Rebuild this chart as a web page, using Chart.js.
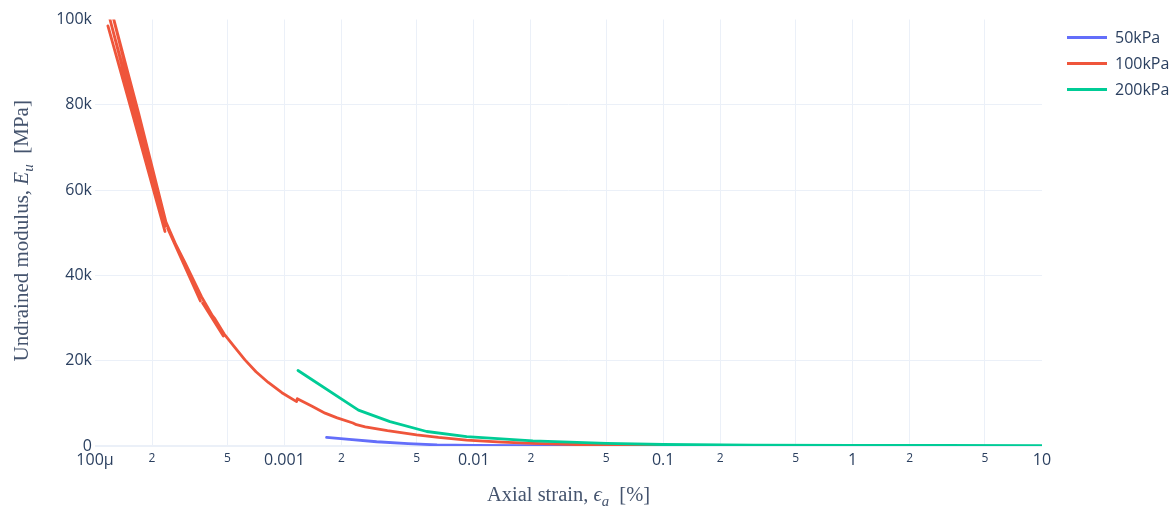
<!DOCTYPE html>
<html>
<head>
<meta charset="utf-8">
<script src="https://cdn.jsdelivr.net/npm/chart.js@4.4.1/dist/chart.umd.min.js"></script>
<style>
  html, body { margin: 0; padding: 0; background: #fff; }
  #wrap { width: 1175px; height: 514px; position: relative; }
</style>
</head>
<body>
<div id="wrap"><canvas id="chart"></canvas></div>
<script>
// Series data (axial strain in %, modulus in MPa)
const seriesNames = ["50kPa", "100kPa", "200kPa"];
const seriesColors = ["#636efa", "#EF553B", "#00cc96"];

const strain50 = [1.67e-3, 2.2e-3, 3.07e-3, 4.5e-3, 6.4e-3, 1e-2, 2e-2, 5e-2, 0.1];
const modulus50 = [2000, 1550, 1000, 550, 250, 120, 60, 30, 20];

const strain100 = [1.17e-4, 1.6e-4, 2.34e-4, 1.2e-4, 1.65e-4, 2.35e-4, 1.24e-4, 1.7e-4, 2.37e-4, 3.0e-4, 3.6e-4, 2.42e-4, 3.0e-4,
  3.65e-4, 4.3e-4, 4.76e-4, 3.7e-4, 4.3e-4, 4.8e-4, 5.5e-4, 6.19e-4, 7.08e-4, 8.22e-4,
  9.7e-4, 1.16e-3, 1.17e-3, 1.4e-3, 1.64e-3, 1.9e-3,
  2.3e-3, 2.4e-3, 2.67e-3, 3.5e-3, 4.99e-3, 6.5e-3, 9.17e-3, 1.4e-2, 2.05e-2, 3.5e-2, 6e-2, 0.1, 0.2];
const modulus100 = [98500, 76900, 50300, 100000, 77200, 51500, 101000, 78000, 52500, 42100, 34000, 51000, 42800,
  35000, 29500, 25800, 33500, 29800, 26300, 23000, 20200, 17400, 14900,
  12500, 10400, 11100, 9300, 7700, 6600,
  5400, 5000, 4500, 3600, 2600, 2000, 1400, 900, 600, 350, 200, 150, 100];

const strain200 = [1.18e-3, 2.46e-3, 3.61e-3, 5.64e-3, 9.17e-3, 2.05e-2, 5.03e-2, 0.1, 0.3, 1, 3, 10];
const modulus200 = [17700, 8400, 5700, 3400, 2200, 1200, 600, 350, 200, 150, 120, 100];

// Tick labels
const xTickValues = [1e-4, 2e-4, 5e-4, 1e-3, 2e-3, 5e-3, 1e-2, 2e-2, 5e-2, 0.1, 0.2, 0.5, 1, 2, 5, 10];
const xTickLabels = ["100μ", "2", "5", "0.001", "2", "5", "0.01", "2", "5", "0.1", "2", "5", "1", "2", "5", "10"];
const yTickValues = [0, 20000, 40000, 60000, 80000, 100000];
const yTickLabels = ["0", "20k", "40k", "60k", "80k", "100k"];

const TEXT = "#2a3f5f";
const GRID = "#EBF0F8";
const SANS = "'Open Sans', 'Noto Sans', sans-serif";
const SERIF = "'Liberation Serif', 'DejaVu Serif', serif";

function toPoints(xs, ys) {
    return xs.map((x, i) => ({ x: x, y: ys[i] }));
}

function isMajor(label) {
    return label !== "2" && label !== "5";
}

// Draw text made of normal / italic / subscript pieces
function drawRich(ctx, parts, cx, cy, size) {
    const fontFor = p => `${p.italic ? "italic " : ""}${p.sub ? size * 0.72 : size}px ${SERIF}`;
    let total = 0;
    parts.forEach(p => { ctx.font = fontFor(p); total += ctx.measureText(p.t).width; });
    let x = cx - total / 2;
    ctx.textBaseline = "alphabetic";
    ctx.textAlign = "left";
    parts.forEach(p => {
        ctx.font = fontFor(p);
        ctx.fillText(p.t, x, cy + (p.sub ? size * 0.25 : 0));
        x += ctx.measureText(p.t).width;
    });
}

const extrasPlugin = {
    id: "extras",
    afterDraw(chart) {
        const ctx = chart.ctx;
        const area = chart.chartArea;
        ctx.save();
        ctx.fillStyle = "#45546e";

        // x axis title
        drawRich(ctx, [
            { t: "Axial strain, " },
            { t: "ϵ", italic: true },
            { t: "a", italic: true, sub: true },
            { t: "  [%]" }
        ], (area.left + area.right) / 2, 501, 20.5);

        // y axis title (rotated)
        ctx.save();
        ctx.translate(28, (area.top + area.bottom) / 2 - 2);
        ctx.rotate(-Math.PI / 2);
        drawRich(ctx, [
            { t: "Undrained modulus, " },
            { t: "E", italic: true },
            { t: "u", italic: true, sub: true },
            { t: "  [MPa]" }
        ], 0, 0, 21);
        ctx.restore();

        // legend
        ctx.font = `16px ${SANS}`;
        ctx.textBaseline = "middle";
        ctx.textAlign = "left";
        seriesNames.forEach((name, i) => {
            const y = 37.5 + i * 26;
            ctx.strokeStyle = seriesColors[i];
            ctx.lineWidth = 2.8;
            ctx.beginPath();
            ctx.moveTo(1067, y);
            ctx.lineTo(1107, y);
            ctx.stroke();
            ctx.fillStyle = TEXT;
            ctx.fillText(name, 1115, y + 1);
        });
        ctx.restore();
    }
};

function makeDataset(i, xs, ys, order) {
    return {
        label: seriesNames[i],
        data: toPoints(xs, ys),
        borderColor: seriesColors[i],
        backgroundColor: seriesColors[i],
        borderWidth: 2.8,
        pointRadius: 0,
        tension: 0,
        borderJoinStyle: "round",
        borderCapStyle: "round",
        order: order
    };
}

new Chart(document.getElementById("chart"), {
    type: "line",
    data: {
        datasets: [
            makeDataset(0, strain50, modulus50, 3),
            makeDataset(1, strain100, modulus100, 2),
            makeDataset(2, strain200, modulus200, 1)
        ]
    },
    options: {
        responsive: true,
        maintainAspectRatio: false,
        animation: false,
        layout: { padding: { left: 0, right: 133, top: 19.5, bottom: 0 } },
        plugins: {
            legend: { display: false },
            tooltip: { enabled: false }
        },
        scales: {
            x: {
                type: "logarithmic",
                min: 1e-4,
                max: 10,
                border: { display: false },
                afterBuildTicks: scale => {
                    scale.ticks = xTickValues.map(v => ({ value: v }));
                },
                afterFit: scale => { scale.height = 68; },
                grid: {
                    drawTicks: false,
                    color: c => (c.tick && (c.tick.value === 1e-4 || c.tick.value === 10)) ? "rgba(0,0,0,0)" : GRID,
                    lineWidth: 1
                },
                ticks: {
                    autoSkip: false,
                    maxRotation: 0,
                    padding: 5,
                    color: TEXT,
                    callback: (value, index) => xTickLabels[index],
                    font: c => ({
                        family: SANS,
                        size: isMajor(xTickLabels[c.index]) ? 16 : 12
                    })
                }
            },
            y: {
                type: "linear",
                min: 0,
                max: 100000,
                border: { display: false },
                afterBuildTicks: scale => {
                    scale.ticks = yTickValues.map(v => ({ value: v }));
                },
                afterFit: scale => { scale.width = 95; },
                grid: {
                    drawTicks: false,
                    color: c => (c.tick && c.tick.value === 100000) ? "rgba(0,0,0,0)" : GRID,
                    lineWidth: c => (c.tick && c.tick.value === 0) ? 2 : 1
                },
                ticks: {
                    padding: 3,
                    color: TEXT,
                    callback: (value, index) => yTickLabels[index],
                    font: { family: SANS, size: 16 }
                }
            }
        }
    },
    plugins: [extrasPlugin]
});
</script>
</body>
</html>
